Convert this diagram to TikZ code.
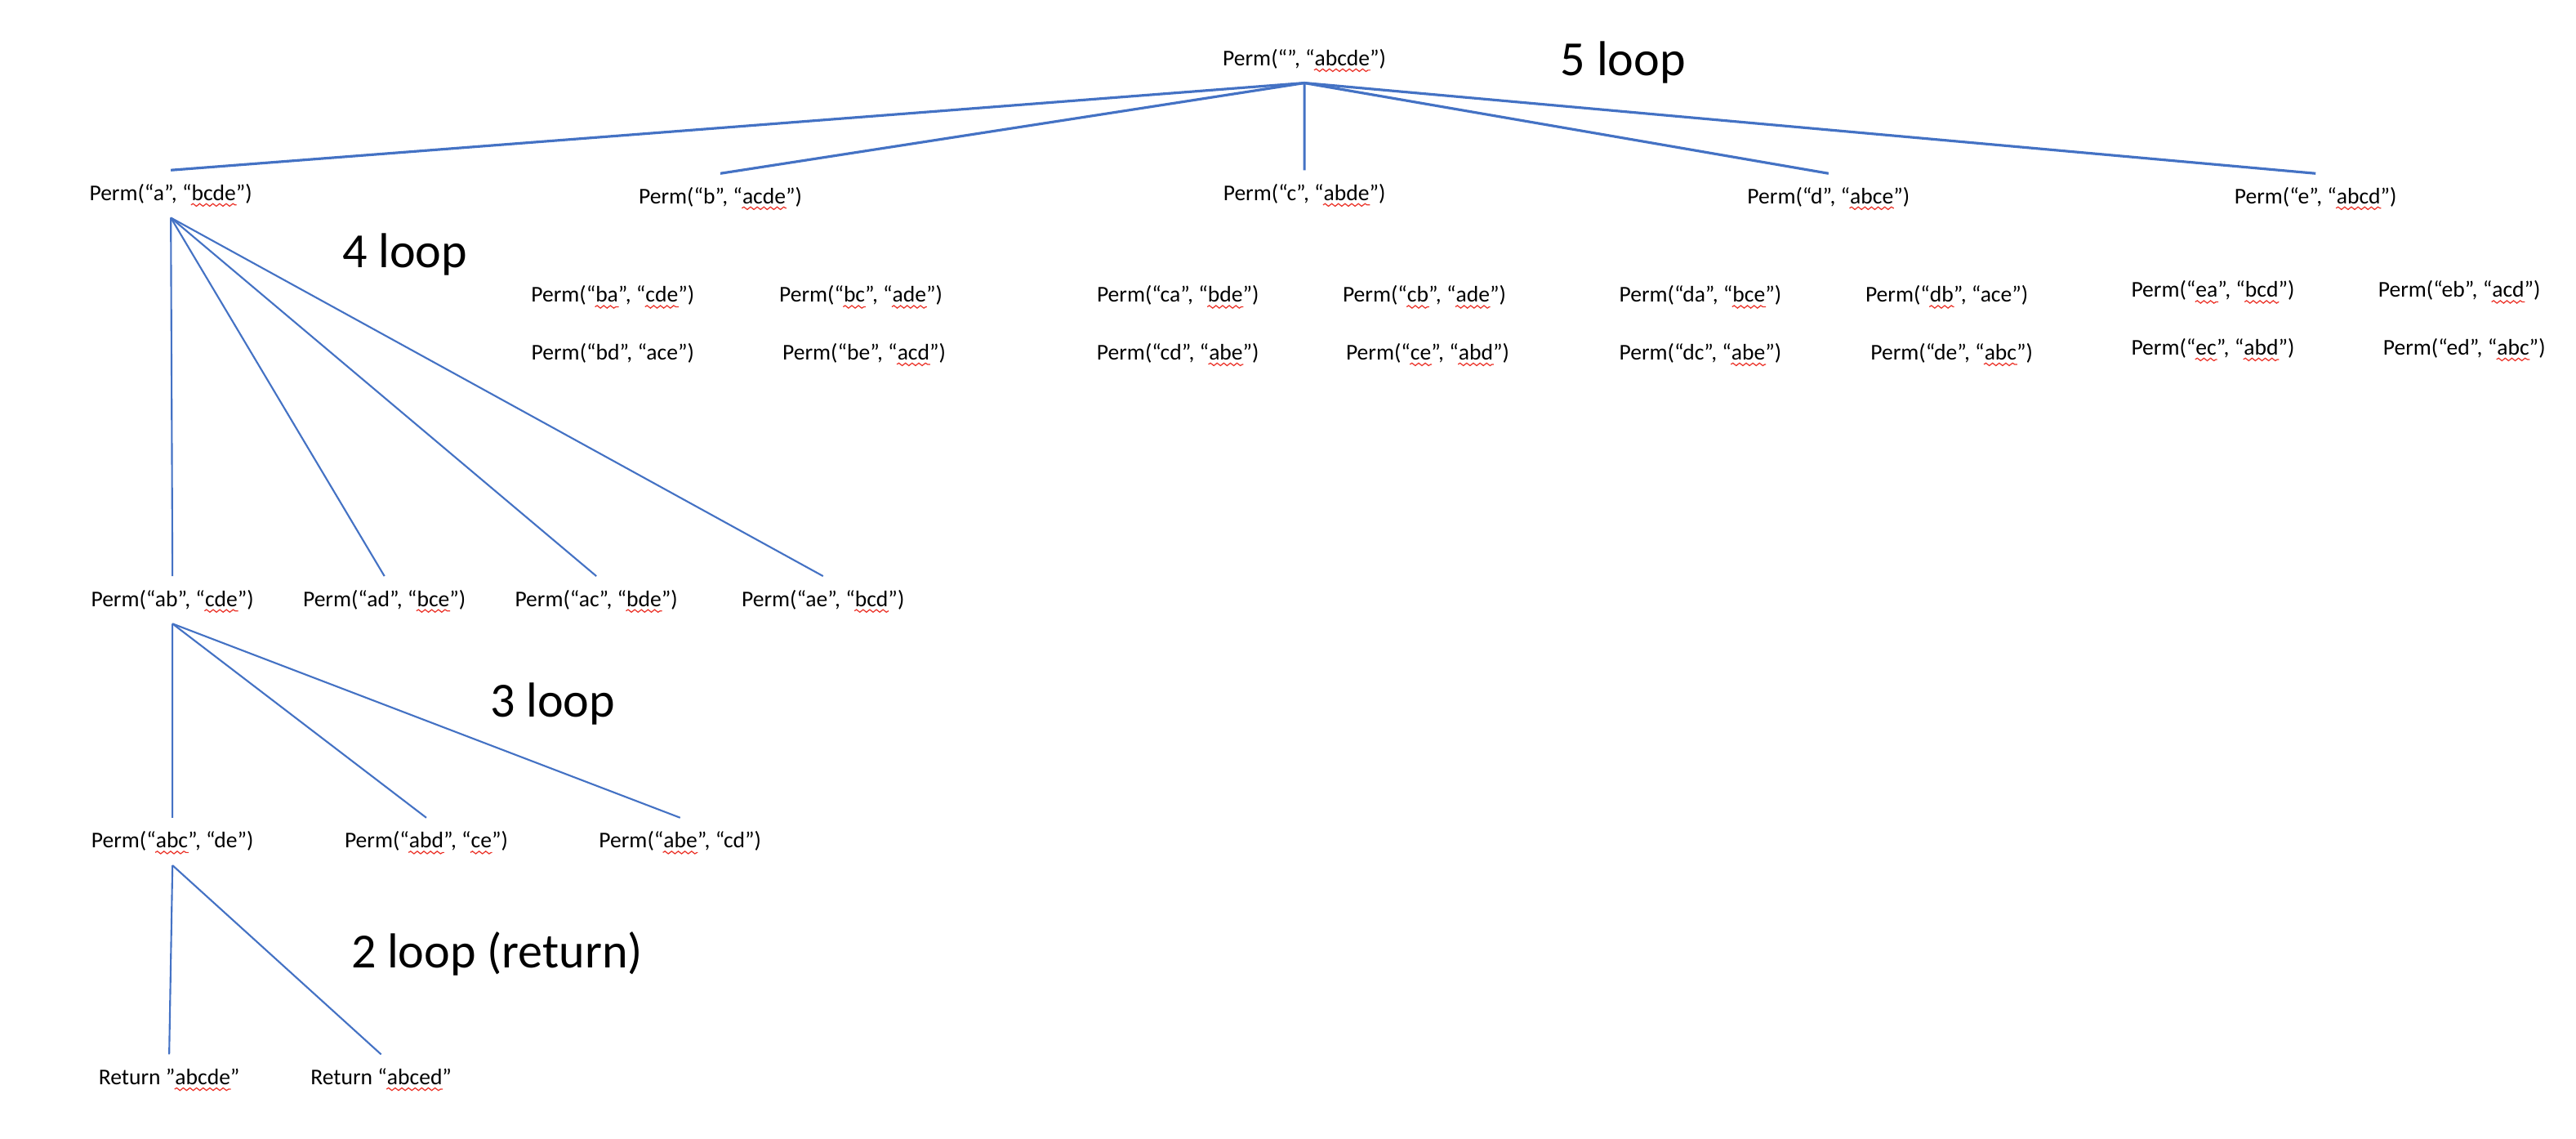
\documentclass[tikz,border=0pt]{standalone}
\usepackage{fontspec}
\setmainfont{Carlito}
\usetikzlibrary{decorations.pathmorphing}
\definecolor{treeblue}{RGB}{68,114,196}
\definecolor{spellred}{RGB}{235,50,40}
% red wavy underline of the spell checker
\newcommand{\redwave}[1]{\tikz[baseline=(w.base)]{\node[inner sep=0pt, text height={}, text depth={}, anchor=base] (w) at (0,0) {#1};
	\draw[overlay, spellred, line width=0.35pt, decorate, decoration={snake, amplitude=0.45pt, segment length=2.3pt}] ([yshift=-1.6pt]w.base west) -- ([yshift=-1.6pt]w.base east);}}

\begin{document}
\begin{tikzpicture}[x=0.2mm, y=-0.2mm,
		parent anchor=south, child anchor=north,
		level 1/.style={level distance=16.4mm, sibling distance=65.3mm,
			edge from parent/.style={draw=treeblue, line width=0.9pt}},
		level 2/.style={level distance=49.4mm, sibling distance=25.8mm,
			edge from parent/.style={draw=treeblue, line width=0.6pt}},
		level 3/.style={level distance=29.4mm, sibling distance=30.9mm},
		level 4/.style={level distance=28.8mm, sibling distance=25.8mm}]
	\tikzstyle{every node}=[font=\fontsize{7.8}{9}\selectfont, inner xsep=0pt, inner ysep=1.5mm, text height=2.1mm, text depth=0.55mm]
	\tikzstyle{looplabel}=[font=\fontsize{17}{20}\selectfont, inner sep=0pt, text height={}, text depth={}, anchor=base]
	\useasboundingbox (0,0) rectangle (1568,693);
		\node (Root) at (794,36) {Perm(“”, “\redwave{abcde}”)}
			child[xshift=-7.4mm] {
				node (a) {Perm(“a”, “\redwave{bcde}”)}
				child[xshift=38.9mm] { node (ab) {Perm(“ab”, “\redwave{cde}”)}
					child[xshift=30.9mm] { node (abc) {Perm(“\redwave{abc}”, “de”)}
						child[xshift=12.5mm] { node (r1) {Return ”\redwave{abcde}”}}
						child[xshift=12.5mm] { node (r2) {Return “\redwave{abced}”}}
					}
					child[xshift=30.9mm] { node (abd) {Perm(“\redwave{abd}”, “\redwave{ce}”)}}
					child[xshift=30.9mm] { node (abe) {Perm(“\redwave{abe}”, “cd”)}}
				}
				child[xshift=38.9mm] { node (ad) {Perm(“ad”, “\redwave{bce}”)}}
				child[xshift=38.9mm] { node (ac) {Perm(“ac”, “\redwave{bde}”)}}
				child[xshift=40.7mm] { node (ae) {Perm(“ae”, “\redwave{bcd}”)}}
			}
			child[xshift=-5.8mm, yshift=-0.4mm] { node (b) {Perm(“b”, “\redwave{acde}”)}}
			child { node (c) {Perm(“c”, “\redwave{abde}”)}}
			child[xshift=-1.5mm, yshift=-0.4mm] { node (d) {Perm(“d”, “\redwave{abce}”)}}
			child[xshift=-7.5mm, yshift=-0.4mm] { node (e) {Perm(“e”, “\redwave{abcd}”)}};
	% calls under b, c, d, e (not expanded)
	\node (ba) at (373,180) {Perm(“\redwave{ba}”, “\redwave{cde}”)};
	\node (bc) at (524,180) {Perm(“\redwave{bc}”, “\redwave{ade}”)};
	\node (bd) at (373,215) {Perm(“bd”, “ace”)};
	\node (be) at (526,215) {Perm(“be”, “\redwave{acd}”)};
	\node (ca) at (717,180) {Perm(“ca”, “\redwave{bde}”)};
	\node (cb) at (867,180) {Perm(“\redwave{cb}”, “\redwave{ade}”)};
	\node (cd) at (717,215) {Perm(“cd”, “\redwave{abe}”)};
	\node (ce) at (869,215) {Perm(“\redwave{ce}”, “\redwave{abd}”)};
	\node (da) at (1035,180) {Perm(“da”, “\redwave{bce}”)};
	\node (db) at (1185,180) {Perm(“\redwave{db}”, “ace”)};
	\node (dc) at (1035,215) {Perm(“dc”, “\redwave{abe}”)};
	\node (de) at (1188,215) {Perm(“de”, “\redwave{abc}”)};
	\node (ea) at (1347,177) {Perm(“\redwave{ea}”, “\redwave{bcd}”)};
	\node (eb) at (1497,177) {Perm(“eb”, “\redwave{acd}”)};
	\node (ec) at (1347,212) {Perm(“\redwave{ec}”, “\redwave{abd}”)};
	\node (ed) at (1500,212) {Perm(“ed”, “\redwave{abc}”)};
	% loop counts
	\node[looplabel] (l5) at (988,46) {5 loop};
	\node[looplabel] (l4) at (246.5,163) {4 loop};
	\node[looplabel] (l3) at (336.5,436) {3 loop};
	\node[looplabel] (l2) at (302.5,589) {2 loop (return)};
\end{tikzpicture}
\end{document}
